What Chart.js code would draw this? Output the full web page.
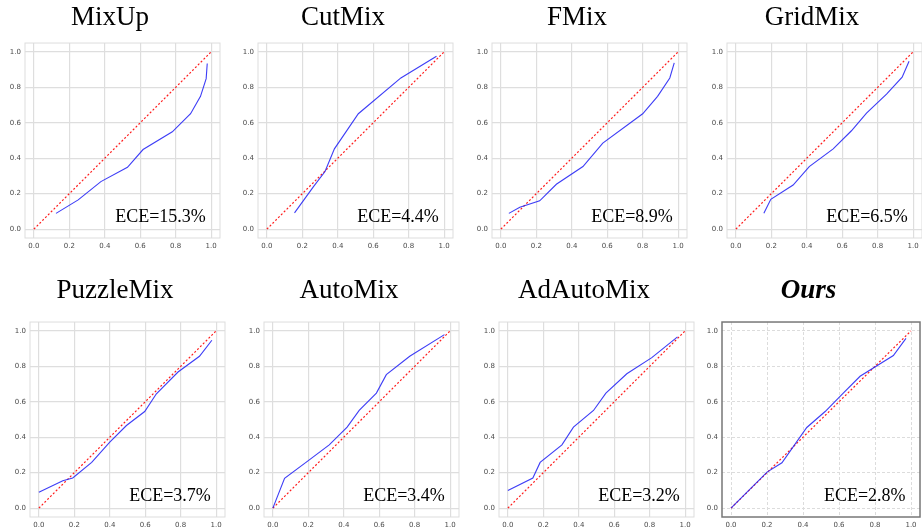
<!DOCTYPE html>
<html>
<head>
<meta charset="utf-8">
<script src="https://cdn.jsdelivr.net/npm/chart.js@4.4.1/dist/chart.umd.min.js"></script>
<style>
  html, body { margin: 0; padding: 0; background: #fff; overflow: hidden; }
  body { width: 922px; height: 529px; position: relative; }
  canvas { position: absolute; }
</style>
</head>
<body>
<script>
// tick labels shared by every panel
const tickValues = [0, 0.2, 0.4, 0.6, 0.8, 1.0];

const methods = ['MixUp', 'CutMix', 'FMix', 'GridMix', 'PuzzleMix', 'AutoMix', 'AdAutoMix', 'Ours'];
const eceValues = ['15.3', '4.4', '8.9', '6.5', '3.7', '3.4', '3.2', '2.8'];

// confidence (x) / accuracy (y) per method
const mixupConf = [0.125, 0.25, 0.378, 0.528, 0.616, 0.781, 0.884, 0.94, 0.972, 0.978];
const mixupAcc  = [0.089, 0.165, 0.268, 0.349, 0.449, 0.549, 0.651, 0.749, 0.849, 0.934];

const cutmixConf = [0.156, 0.263, 0.328, 0.381, 0.516, 0.756, 0.957];
const cutmixAcc  = [0.092, 0.24, 0.325, 0.453, 0.651, 0.853, 0.975];

const fmixConf = [0.045, 0.107, 0.219, 0.313, 0.463, 0.575, 0.8, 0.884, 0.953, 0.978];
const fmixAcc  = [0.089, 0.123, 0.16, 0.253, 0.353, 0.485, 0.651, 0.749, 0.853, 0.938];

const gridmixConf = [0.158, 0.197, 0.323, 0.414, 0.549, 0.652, 0.737, 0.85, 0.938, 0.977];
const gridmixAcc  = [0.089, 0.168, 0.249, 0.353, 0.453, 0.555, 0.655, 0.762, 0.857, 0.947];

const puzzleConf = [0.0, 0.135, 0.191, 0.298, 0.4, 0.494, 0.597, 0.663, 0.785, 0.906, 0.976];
const puzzleAcc  = [0.09, 0.155, 0.17, 0.258, 0.372, 0.466, 0.545, 0.645, 0.768, 0.857, 0.947];

const automixConf = [0.0, 0.066, 0.2, 0.318, 0.419, 0.487, 0.584, 0.64, 0.772, 0.968];
const automixAcc  = [0.0, 0.168, 0.268, 0.357, 0.457, 0.551, 0.649, 0.753, 0.857, 0.979];

const adautoConf = [0.0, 0.141, 0.182, 0.305, 0.37, 0.483, 0.553, 0.671, 0.812, 0.957];
const adautoAcc  = [0.1, 0.17, 0.258, 0.357, 0.457, 0.551, 0.649, 0.758, 0.849, 0.966];

const oursConf = [0.0, 0.163, 0.2, 0.283, 0.421, 0.523, 0.625, 0.717, 0.902, 0.972];
const oursAcc  = [0.0, 0.165, 0.203, 0.256, 0.455, 0.545, 0.65, 0.744, 0.861, 0.958];

const confidences = [mixupConf, cutmixConf, fmixConf, gridmixConf, puzzleConf, automixConf, adautoConf, oursConf];
const accuracies  = [mixupAcc, cutmixAcc, fmixAcc, gridmixAcc, puzzleAcc, automixAcc, adautoAcc, oursAcc];

// layout
const panelLeft = [25, 258, 492, 727, 30, 264, 499, 722];
const YW = 25;   // y axis width
const XH = 18;   // x axis height
const FH = 195;  // frame height

// frame around the plot area
const framePlugin = {
  id: 'frame',
  beforeDatasetsDraw(chart, args, opts) {
    const a = chart.chartArea;
    const ctx = chart.ctx;
    ctx.save();
    ctx.strokeStyle = opts.color;
    ctx.lineWidth = opts.width;
    ctx.strokeRect(a.left, a.top, a.right - a.left, a.bottom - a.top);
    ctx.restore();
  }
};

// ECE annotation in the lower right
const ecePlugin = {
  id: 'ece',
  afterDatasetsDraw(chart, args, opts) {
    const ctx = chart.ctx;
    const x = chart.scales.x.getPixelForValue(0.97);
    const y = chart.scales.y.getPixelForValue(0.042);
    ctx.save();
    ctx.font = '18px "Liberation Serif", "Times New Roman", serif';
    ctx.fillStyle = '#000';
    ctx.textAlign = 'right';
    ctx.textBaseline = 'alphabetic';
    ctx.fillText(opts.text, x, y);
    ctx.restore();
  }
};

function makeChart(i) {
  const isOurs = i === 7;
  const topRow = i < 4;
  const fw = isOurs ? 198 : 195;
  const padBottom = topRow ? 9 : 15;
  const canvas = document.createElement('canvas');
  canvas.width = YW + fw + YW;
  canvas.height = 34 + padBottom + FH + XH;
  canvas.style.left = (panelLeft[i] - YW) + 'px';
  canvas.style.top = (topRow ? 0 : 273) + 'px';
  document.body.appendChild(canvas);

  const pts = confidences[i].map((c, k) => ({ x: c, y: accuracies[i][k] }));

  const tickFont = { family: '"DejaVu Sans", sans-serif', size: 7 };

  function setTicks(scale) {
    scale.ticks = tickValues.map(v => ({ value: v }));
  }

  const axis = (fit) => ({
    type: 'linear',
    min: -0.05,
    max: 1.05,
    afterBuildTicks: setTicks,
    afterFit: fit,
    grid: {
      color: isOurs ? '#dcdcdc' : '#dedede',
      lineWidth: isOurs ? 1 : 1.2,
      drawTicks: false
    },
    // in v4 border.dash sets the grid line dash
    border: isOurs ? { display: false, dash: [3, 2] } : { display: false },
    ticks: {
      font: tickFont,
      color: '#4a4a4a',
      padding: 4,
      maxRotation: 0,
      callback: v => Number(v).toFixed(1)
    }
  });

  new Chart(canvas, {
    type: 'line',
    data: {
      datasets: [
        {
          data: pts,
          borderColor: 'rgba(40, 40, 245, 0.9)',
          borderWidth: 1.1,
          pointRadius: 0,
          tension: 0
        },
        {
          data: [{ x: 0, y: 0 }, { x: 1, y: 1 }],
          borderColor: 'rgb(255, 30, 30)',
          borderWidth: 1.2,
          borderDash: [2, 2],
          pointRadius: 0
        }
      ]
    },
    options: {
      responsive: false,
      animation: false,
      layout: { padding: { left: 0, right: YW, top: 0, bottom: 0 } },
      scales: {
        x: axis(s => { s.height = XH; }),
        y: axis(s => { s.width = YW; })
      },
      plugins: {
        legend: { display: false },
        tooltip: { enabled: false },
        title: {
          display: true,
          text: methods[i],
          color: '#000',
          padding: { top: 1, bottom: padBottom - 1 },
          font: {
            family: '"Liberation Serif", "Times New Roman", serif',
            size: 27,
            lineHeight: 1.26,
            weight: isOurs ? 'bold' : 'normal',
            style: isOurs ? 'italic' : 'normal'
          }
        },
        frame: { color: isOurs ? '#777' : '#dddddd', width: isOurs ? 1.5 : 1 },
        ece: { text: 'ECE=' + eceValues[i] + '%' }
      }
    },
    plugins: [framePlugin, ecePlugin]
  });
}

for (let i = 0; i < methods.length; i++) makeChart(i);
</script>
</body>
</html>
